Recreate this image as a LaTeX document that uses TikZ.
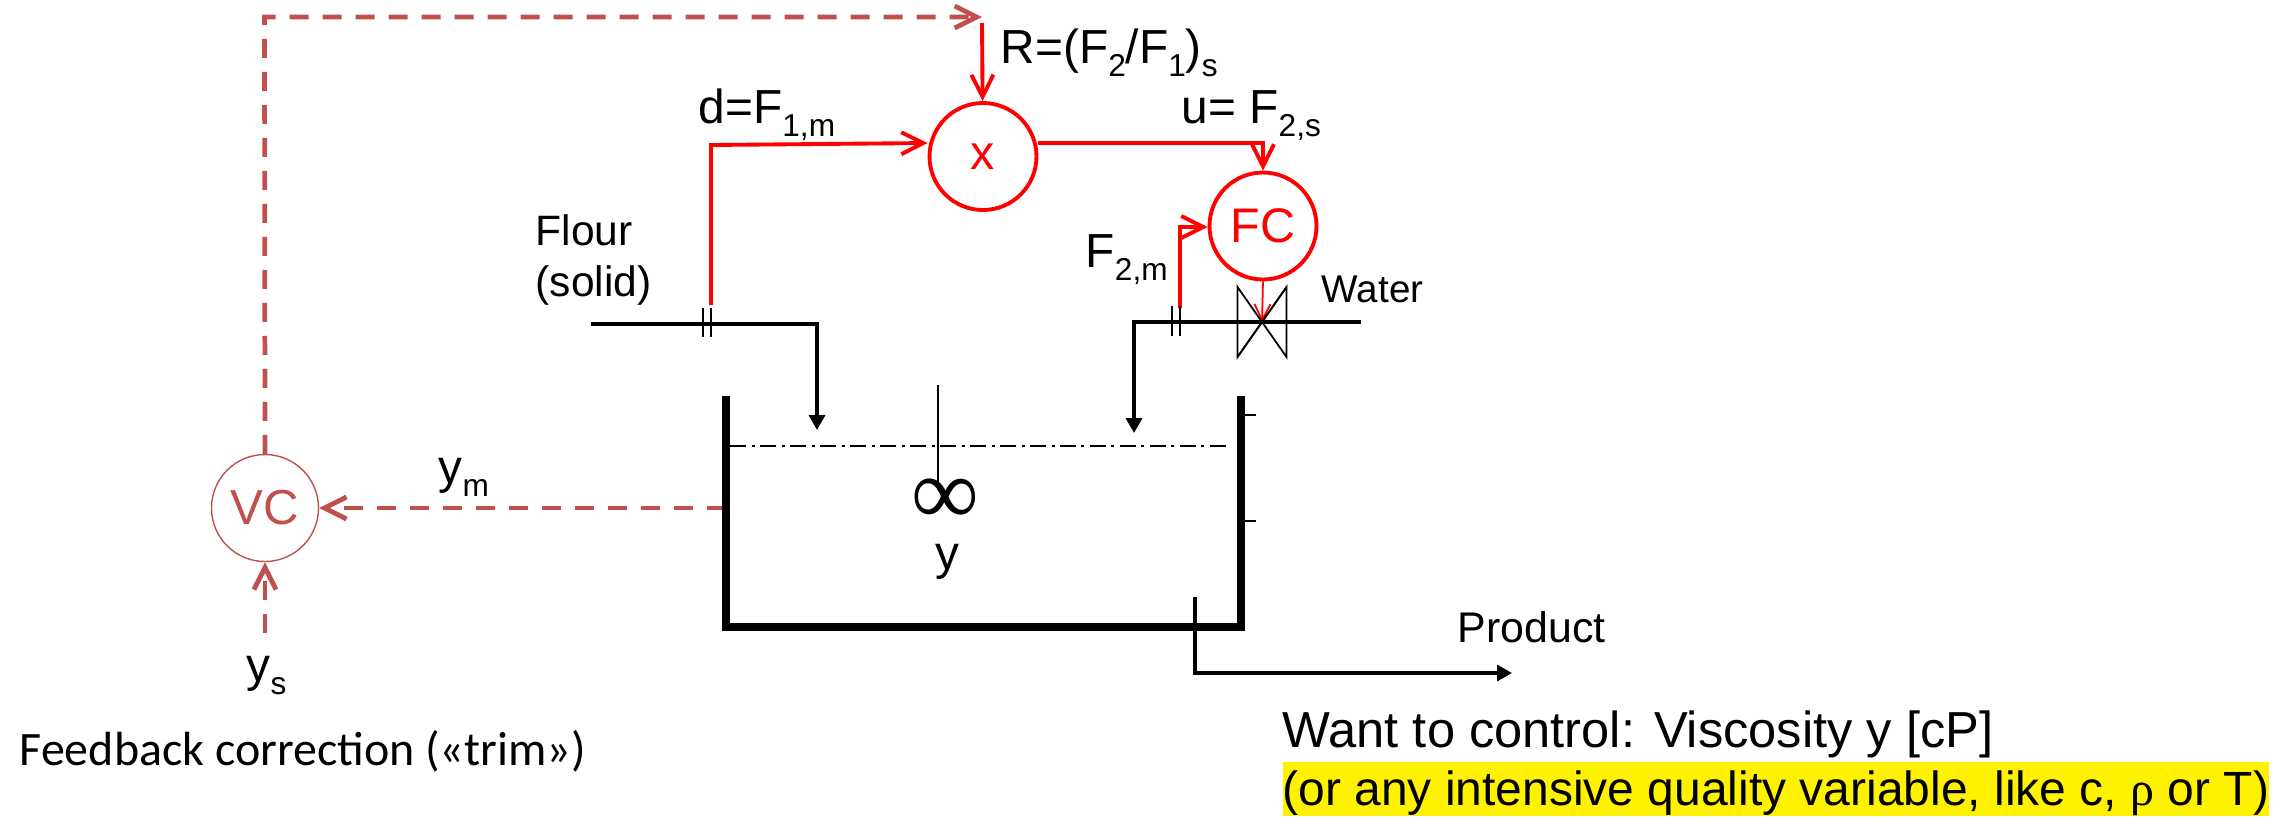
\documentclass[tikz,border=0pt]{standalone}
\usepackage{fontspec}
\setmainfont{Liberation Sans}
\newfontfamily\calfont{Carlito}
\newfontfamily\symfont{Liberation Serif}
\usetikzlibrary{arrows.meta}
\definecolor{trimred}{HTML}{C0504D}
\newcommand{\subs}[1]{\raisebox{-0.28em}{\fontsize{9}{10}\selectfont #1}}
\tikzset{
    lbl/.style = {inner sep=0pt, anchor=base west, text=black, font=\fontsize{13.6}{15}\selectfont},
    ctrl/.style = {circle, draw=red, text=red, line width=1.1pt, minimum size=1.07cm, inner sep=0pt, font=\fontsize{13.8}{15}\selectfont},
    trimctrl/.style = {circle, draw=trimred, text=trimred, line width=0.4pt, minimum size=1.07cm, inner sep=0pt, font=\fontsize{14}{15}\selectfont},
    sig/.style = {red, line width=1.1pt, -{Straight Barb[length=2.2mm,width=2.2mm,line width=1.1pt]}},
    trim/.style = {trimred, line width=1.35pt, dash pattern=on 0.19cm off 0.14cm, -{Straight Barb[length=2.2mm,width=2.2mm,line width=1.35pt]}},
    pipe/.style = {black, line width=0.95pt},
    flow/.style = {pipe, -{Triangle[length=1.5mm,width=1.6mm]}},
    wall/.style = {black, line width=2.2pt, line cap=rect},
    fine/.style = {black, line width=0.5pt}
}

\begin{document}
\begin{tikzpicture}
    \useasboundingbox (0,0) rectangle (22.95,-8.16);

    % controllers
    \node (x) at (9.83,-1.565) [ctrl] {x};
    \node (FC) at (12.63,-2.26) [ctrl] {FC};
    \node (VC) at (2.65,-5.08) [trimctrl] {VC};

    % free ends
    \coordinate (Rs) at (9.82,-0.23);
    \coordinate (corner) at (2.645,-0.17);
    \coordinate (Rtip) at (9.82,-0.17);
    \coordinate (ys) at (2.65,-6.33);
    \coordinate (tankm) at (7.26,-5.08);
    \coordinate (flourin) at (5.91,-3.24);
    \coordinate (flourbend) at (8.17,-3.24);
    \coordinate (flourtip) at (8.17,-4.30);
    \coordinate (watin) at (13.61,-3.22);
    \coordinate (watbend) at (11.34,-3.22);
    \coordinate (wattip) at (11.34,-4.33);
    \coordinate (F1) at (7.11,-3.05);
    \coordinate (F1up) at (7.11,-1.45);
    \coordinate (F2) at (11.80,-3.08);
    \coordinate (F2up) at (11.80,-2.27);
    \coordinate (ubend) at (12.63,-1.43);
    \coordinate (valve) at (12.62,-3.22);
    \coordinate (tl) at (7.26,-4.00);
    \coordinate (bl) at (7.26,-6.27);
    \coordinate (br) at (12.41,-6.27);
    \coordinate (tr) at (12.41,-4.00);
    \coordinate (out) at (11.95,-5.97);
    \coordinate (outb) at (11.95,-6.73);
    \coordinate (outtip) at (15.12,-6.73);
    \coordinate (stirtop) at (9.38,-3.85);
    \coordinate (stirend) at (9.38,-4.90);

    % signals
    \draw[sig] (Rs) -- (x);
    \draw[sig] (F1) -- (F1up) -- (x.west |- ubend);
    \draw[sig] (x.east |- ubend) -- (ubend) -- (FC);
    \draw[sig] (F2) -- (F2up) -- (FC.west |- F2up);
    \draw[red, line width=0.5pt, -{Straight Barb[length=1.6mm,width=1.6mm]}] (FC.south) -- (valve);
    \draw[trim] (VC.north) -- (corner) -- (Rtip);
    \draw[trim] (tankm) -- (VC);
    \draw[trim] (ys) -- (VC);

    % flows
    \draw[flow] (flourin) -- (flourbend) -- (flourtip);
    \draw[flow] (watin) -- (watbend) -- (wattip);
    \draw[flow] (out) -- (outb) -- (outtip);

    % orifices
    \foreach \xx in {7.03,7.11} \draw[fine] (\xx,-3.08) -- (\xx,-3.37);
    \foreach \xx in {11.72,11.80} \draw[fine] (\xx,-3.06) -- (\xx,-3.36);

    % valve
    \draw[fine] (valve) -- ++(-0.245,0.35) -- ++(0,-0.70) -- ++(0.49,0.70) -- ++(0,-0.70) -- ++(-0.49,0.70);
    \draw[fine] (valve) ++(0.245,0.35) -- ++(-0.49,-0.70);

    % tank
    \draw[wall] (tl) -- (bl) -- (br) -- (tr);
    \draw[fine, dash pattern=on 0.16cm off 0.055cm on 0.03cm off 0.055cm] (7.30,-4.457) -- (12.30,-4.457);
    \draw[fine] (tr) ++(0,-0.15) -- ++(0.15,0);
    \draw[fine] (tr) ++(0,-1.21) -- ++(0.15,0);

    % stirrer
    \draw[fine] (stirtop) -- (stirend);
    \node (stir) at (9.45,-5.24) [inner sep=0pt, anchor=base, text height=0.42cm, text depth=0pt, font=\symfont\fontsize{27}{27}\selectfont, text=black] {∞};

    % labels
    \node (Rlab) at (10.00,-0.63) [lbl] {R=(F\subs{2}/F\subs{1})\subs{s}};
    \node (ulab) at (11.81,-1.23) [lbl] {u= F\subs{2,s}};
    \node (dlab) at (6.98,-1.23) [lbl] {d=F\subs{1,m}};
    \node (F2lab) at (10.85,-2.67) [lbl] {F\subs{2,m}};
    \node (wat) at (13.21,-3.02) [lbl, font=\fontsize{11}{13}\selectfont] {Water};
    \node (flour) at (5.35,-2.96) [lbl, align=left, font=\fontsize{12.1}{14.5}\selectfont] {Flour\\(solid)};
    \node (ylab) at (9.35,-5.69) [lbl] {y};
    \node (ymlab) at (4.38,-4.83) [lbl] {y\subs{m}};
    \node (yslab) at (2.46,-6.81) [lbl] {y\subs{s}};
    \node (prod) at (14.57,-6.42) [lbl, font=\fontsize{12.2}{14}\selectfont] {Product};
    \node (fb) at (0.19,-7.65) [lbl, font=\calfont\fontsize{13.65}{15}\selectfont] {Feedback correction («trim»)};
    \node (want) at (12.82,-7.47) [lbl, font=\fontsize{14.4}{16}\selectfont] {Want to control: Viscosity y [cP]};
    \node (any) at (12.82,-8.05) [lbl, fill=yellow, text depth=0.11cm, text height=0.43cm, font=\fontsize{13.65}{16}\selectfont] {(or any intensive quality variable, like c, {\symfont ρ} or T)};
\end{tikzpicture}
\end{document}
